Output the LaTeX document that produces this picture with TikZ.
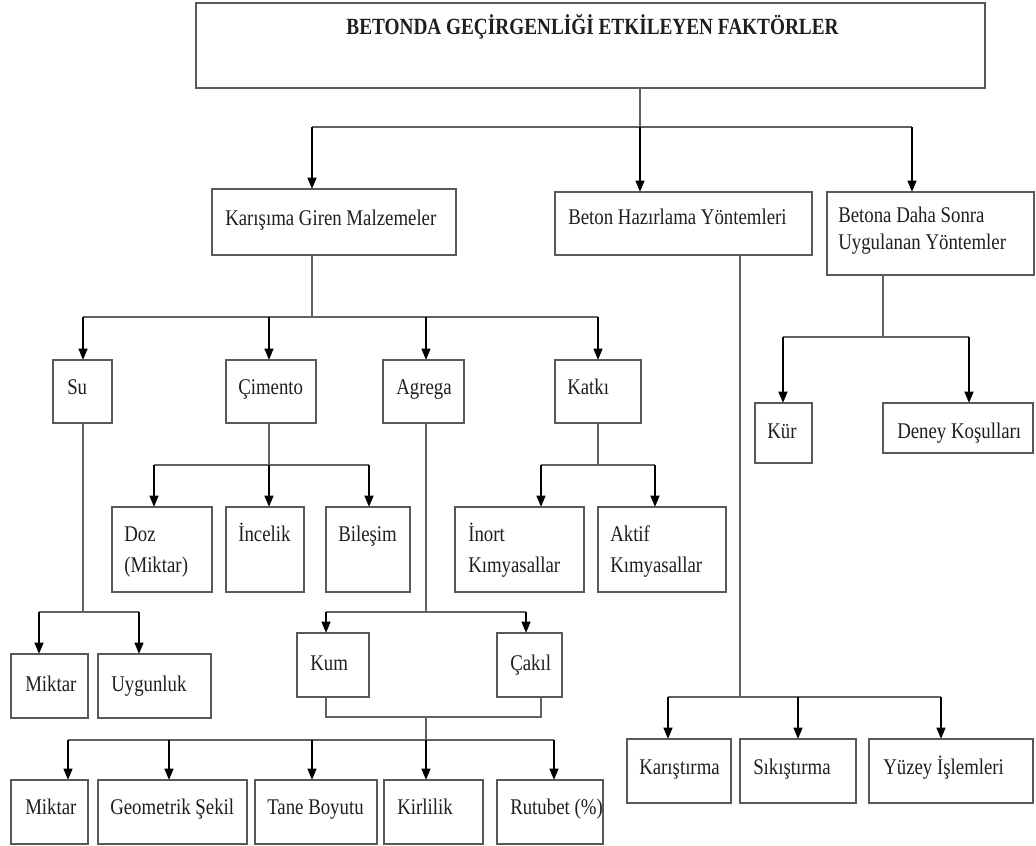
\documentclass[tikz,border=0pt]{standalone}
\usepackage{fontspec}
\setmainfont{Liberation Serif}[FakeStretch=0.84]
\newfontfamily\titlefont{Liberation Serif}[FakeStretch=0.83]
\usetikzlibrary{arrows.meta,calc}
\newcommand\mybox[5]{\node[box, minimum width={(#4-#2)*0.75pt}, minimum height={(#5-#3)*0.75pt}] (#1) at (#2,#3) {};}
\begin{document}
\begin{tikzpicture}[x=0.75pt,y=-0.75pt,
 box/.style={draw=black!65, line width=1.6pt, anchor=north west, inner sep=0pt, outer sep=0pt, fill=white},
 txt/.style={anchor=base west, inner sep=0pt, text=black!88, font=\fontsize{16.8}{23}\selectfont, align=left},
 ttl/.style={anchor=base, inner sep=0pt, text=black!88, font=\titlefont\bfseries\fontsize{17.4}{20}\selectfont},
 ln/.style={draw=black!62, line width=1.3pt},
 arr/.style={draw=black, line width=1.7pt, -{Triangle[width=6.5pt,length=8.5pt]}},
]
\useasboundingbox (0,0) rectangle (1036,846);
% boxes
\mybox{title}{196}{3}{985}{88}
\mybox{kar}{212}{189}{456}{255}
\mybox{bhy}{555}{192}{812}{255}
\mybox{bds}{827}{192}{1034}{275}
\mybox{su}{53}{360}{112}{423}
\mybox{cim}{226}{360}{316}{423}
\mybox{agr}{383}{360}{464}{423}
\mybox{kat}{555}{360}{641}{423}
\mybox{doz}{112}{507}{212}{592}
\mybox{inc}{226}{507}{304}{592}
\mybox{bil}{326}{507}{410}{592}
\mybox{ino}{455}{507}{584}{592}
\mybox{akt}{598}{507}{726}{592}
\mybox{kur}{755}{403}{812}{463}
\mybox{den}{883}{403}{1033}{453}
\mybox{mika}{11}{654}{88}{718}
\mybox{uyg}{98}{654}{211}{718}
\mybox{kum}{297}{633}{369}{697}
\mybox{cak}{497}{633}{562}{697}
\mybox{kst}{627}{739}{731}{803}
\mybox{sik}{740}{739}{856}{803}
\mybox{yuz}{869}{739}{1033}{803}
\mybox{mikb}{11}{780}{88}{844}
\mybox{geo}{98}{780}{247}{844}
\mybox{tan}{255}{780}{377}{844}
\mybox{kir}{384}{780}{483}{844}
\mybox{rut}{497}{780}{603}{844}
% texts
\node[ttl] (title-t) at ($(title.north)+(2,32)$) {BETONDA GEÇİRGENLİĞİ ETKİLEYEN FAKTÖRLER};
\node[txt] (kar-t) at ($(kar.north west)+(13,36)$) {Karışıma Giren Malzemeler};
\node[txt] (bhy-t) at ($(bhy.north west)+(13,32)$) {Beton Hazırlama Yöntemleri};
\node[txt] (bds-t) at ($(bds.north west)+(11,57)$) {Betona Daha Sonra\\[-3pt]Uygulanan Yöntemler};
\node[txt] (su-t) at ($(su.north west)+(14,34)$) {Su};
\node[txt] (cim-t) at ($(cim.north west)+(12,34)$) {Çimento};
\node[txt] (agr-t) at ($(agr.north west)+(13,34)$) {Agrega};
\node[txt] (kat-t) at ($(kat.north west)+(12,34)$) {Katkı};
\node[txt] (doz-t) at ($(doz.north west)+(12,65)$) {Doz\\(Miktar)};
\node[txt] (inc-t) at ($(inc.north west)+(12,34)$) {İncelik};
\node[txt] (bil-t) at ($(bil.north west)+(12,34)$) {Bileşim};
\node[txt] (ino-t) at ($(ino.north west)+(13,65)$) {İnort\\Kımyasallar};
\node[txt] (akt-t) at ($(akt.north west)+(12,65)$) {Aktif\\Kımyasallar};
\node[txt] (kur-t) at ($(kur.north west)+(12,35)$) {Kür};
\node[txt] (den-t) at ($(den.north west)+(14,35)$) {Deney Koşulları};
\node[txt] (mika-t) at ($(mika.north west)+(14,37)$) {Miktar};
\node[txt] (uyg-t) at ($(uyg.north west)+(13,37)$) {Uygunluk};
\node[txt] (kum-t) at ($(kum.north west)+(13,37)$) {Kum};
\node[txt] (cak-t) at ($(cak.north west)+(13,37)$) {Çakıl};
\node[txt] (kst-t) at ($(kst.north west)+(12,35)$) {Karıştırma};
\node[txt] (sik-t) at ($(sik.north west)+(13,35)$) {Sıkıştırma};
\node[txt] (yuz-t) at ($(yuz.north west)+(14,35)$) {Yüzey İşlemleri};
\node[txt] (mikb-t) at ($(mikb.north west)+(14,34)$) {Miktar};
\node[txt] (geo-t) at ($(geo.north west)+(12,34)$) {Geometrik Şekil};
\node[txt] (tan-t) at ($(tan.north west)+(12,34)$) {Tane Boyutu};
\node[txt] (kir-t) at ($(kir.north west)+(13,34)$) {Kirlilik};
\node[txt] (rut-t) at ($(rut.north west)+(13,34)$) {Rutubet (\%)};
% level 1
\coordinate (j0) at (640,127);
\draw[ln] (title.south -| j0) -- (j0);
\draw[ln] (j0 -| 312,0) -- (j0 -| 912,0);
\draw[arr] (j0 -| 312,0) -- (kar.north -| 312,0);
\draw[arr] (j0) -- (bhy.north -| j0);
\draw[arr] (j0 -| 912,0) -- (bds.north -| 912,0);
% Karisima children
\coordinate (j1) at (312,317);
\draw[ln] (kar.south -| j1) -- (j1);
\draw[ln] (j1 -| 83,0) -- (j1 -| 598,0);
\draw[arr] (j1 -| 83,0) -- (su.north -| 83,0);
\draw[arr] (j1 -| 269,0) -- (cim.north -| 269,0);
\draw[arr] (j1 -| 426,0) -- (agr.north -| 426,0);
\draw[arr] (j1 -| 598,0) -- (kat.north -| 598,0);
% Beton hazirlama children
\coordinate (j2) at (740,697);
\draw[ln] (bhy.south -| j2) -- (j2);
\draw[ln] (j2 -| 668,0) -- (j2 -| 941,0);
\draw[arr] (j2 -| 668,0) -- (kst.north -| 668,0);
\draw[arr] (j2 -| 798,0) -- (sik.north -| 798,0);
\draw[arr] (j2 -| 941,0) -- (yuz.north -| 941,0);
% Betona daha sonra children
\coordinate (j3) at (883,337);
\draw[ln] (bds.south -| j3) -- (j3);
\draw[ln] (j3 -| 783,0) -- (j3 -| 969,0);
\draw[arr] (j3 -| 783,0) -- (kur.north -| 783,0);
\draw[arr] (j3 -| 969,0) -- (den.north -| 969,0);
% Su children
\coordinate (j4) at (83,612);
\draw[ln] (su.south -| j4) -- (j4);
\draw[ln] (j4 -| 39,0) -- (j4 -| 139,0);
\draw[arr] (j4 -| 39,0) -- (mika.north -| 39,0);
\draw[arr] (j4 -| 139,0) -- (uyg.north -| 139,0);
% Cimento children
\coordinate (j5) at (269,465);
\draw[ln] (cim.south -| j5) -- (j5);
\draw[ln] (j5 -| 154,0) -- (j5 -| 369,0);
\draw[arr] (j5 -| 154,0) -- (doz.north -| 154,0);
\draw[arr] (j5) -- (inc.north -| j5);
\draw[arr] (j5 -| 369,0) -- (bil.north -| 369,0);
% Agrega children
\coordinate (j6) at (426,612);
\draw[ln] (agr.south -| j6) -- (j6);
\draw[ln] (j6 -| 326,0) -- (j6 -| 526,0);
\draw[arr] (j6 -| 326,0) -- (kum.north -| 326,0);
\draw[arr] (j6 -| 526,0) -- (cak.north -| 526,0);
% Kum + Cakil merge
\coordinate (j7) at (426,717);
\coordinate (j8) at (426,740);
\draw[ln] (kum.south -| 326,0) -- (j7 -| 326,0) -- (j7 -| 541,0) -- (cak.south -| 541,0);
\draw[ln] (j7) -- (j8);
\draw[ln] (j8 -| 68,0) -- (j8 -| 554,0);
\draw[arr] (j8 -| 68,0) -- (mikb.north -| 68,0);
\draw[arr] (j8 -| 169,0) -- (geo.north -| 169,0);
\draw[arr] (j8 -| 312,0) -- (tan.north -| 312,0);
\draw[arr] (j8) -- (kir.north -| j8);
\draw[arr] (j8 -| 554,0) -- (rut.north -| 554,0);
% Katki children
\coordinate (j9) at (598,465);
\draw[ln] (kat.south -| j9) -- (j9);
\draw[ln] (j9 -| 541,0) -- (j9 -| 655,0);
\draw[arr] (j9 -| 541,0) -- (ino.north -| 541,0);
\draw[arr] (j9 -| 655,0) -- (akt.north -| 655,0);
\end{tikzpicture}
\end{document}
